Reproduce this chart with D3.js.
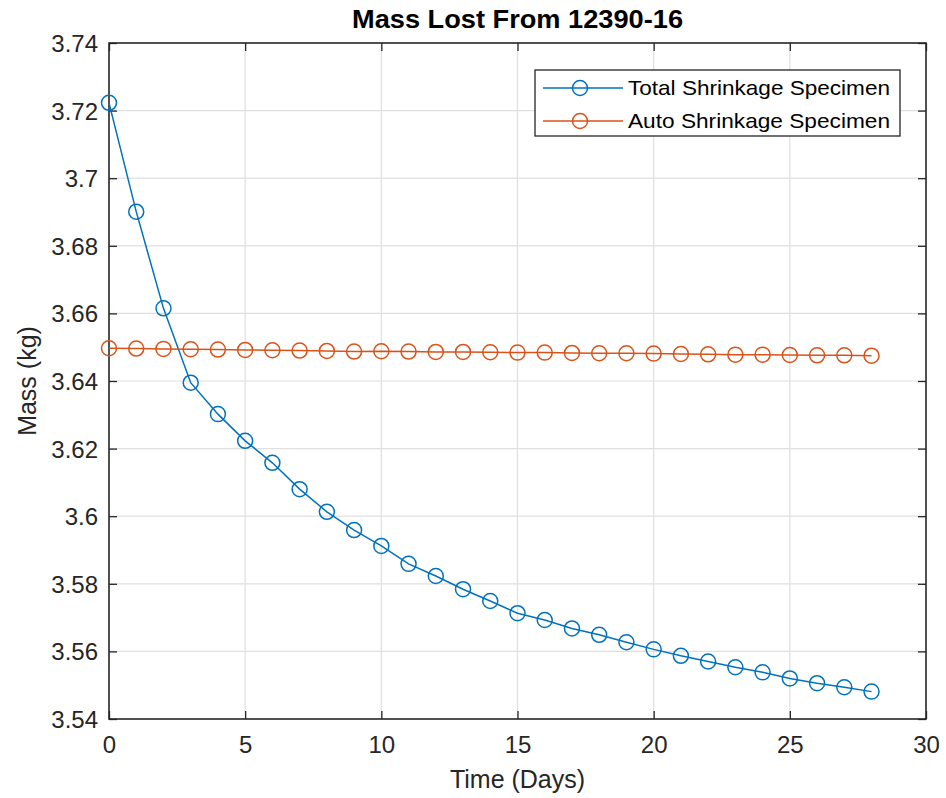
<!DOCTYPE html>
<html>
<head>
<meta charset="utf-8">
<script src="https://cdn.jsdelivr.net/npm/d3@7"></script>
<style>
  body { margin: 0; background: #fff; overflow: hidden; }
  svg { display: block; font-family: "Liberation Sans", Arial, sans-serif; }
  .tick text { fill: #262626; font-size: 24px; }
  .axis-label { fill: #262626; font-size: 25px; }
  .title { fill: #000; font-size: 25px; font-weight: bold; }
</style>
</head>
<body>
<svg width="946" height="798"></svg>
<script>
const days = d3.range(0, 29);

const totalShrinkage = [
  3.7223, 3.6901, 3.6615, 3.6395, 3.6302, 3.6223, 3.6158, 3.6080, 3.6013, 3.5959,
  3.5912, 3.5859, 3.5823, 3.5784, 3.5749, 3.5713, 3.5693, 3.5668, 3.5649, 3.5627,
  3.5606, 3.5587, 3.5570, 3.5553, 3.5538, 3.5520, 3.5506, 3.5494, 3.5481
];

const autoShrinkage = [
  3.6497, 3.6496, 3.6495, 3.6494, 3.6493, 3.6492, 3.6491, 3.6490, 3.6489, 3.6487,
  3.6488, 3.6487, 3.6486, 3.6486, 3.6485, 3.6484, 3.6484, 3.6483, 3.6482, 3.6482,
  3.6481, 3.6480, 3.6479, 3.6478, 3.6478, 3.6477, 3.6476, 3.6476, 3.6475
];

const seriesNames = ['Total Shrinkage Specimen', 'Auto Shrinkage Specimen'];
const seriesColors = ['#0072BD', '#D95319'];

const xTicks = [0, 5, 10, 15, 20, 25, 30];
const yTicks = [3.54, 3.56, 3.58, 3.6, 3.62, 3.64, 3.66, 3.68, 3.7, 3.72, 3.74];

const title = 'Mass Lost From 12390-16';
const xAxisLabel = 'Time (Days)';
const yAxisLabel = 'Mass (kg)';

const svg = d3.select('svg');
const width = +svg.attr('width');
const height = +svg.attr('height');

const margin = {top: 43, right: 20, bottom: 79, left: 109};
const innerWidth = width - margin.left - margin.right;
const innerHeight = height - margin.top - margin.bottom;

const xScale = d3.scaleLinear().domain([0, 30]).range([0, innerWidth]);
const yScale = d3.scaleLinear().domain([3.54, 3.74]).range([innerHeight, 0]);

const g = svg.append('g')
  .attr('transform', `translate(${margin.left}, ${margin.top})`);

// grid
g.append('g').selectAll('line').data(xTicks.slice(1, -1)).join('line')
  .attr('x1', d => xScale(d)).attr('x2', d => xScale(d))
  .attr('y1', 0).attr('y2', innerHeight)
  .attr('stroke', '#dfdfdf').attr('stroke-width', 1.2);
g.append('g').selectAll('line').data(yTicks.slice(1, -1)).join('line')
  .attr('y1', d => yScale(d)).attr('y2', d => yScale(d))
  .attr('x1', 0).attr('x2', innerWidth)
  .attr('stroke', '#dfdfdf').attr('stroke-width', 1.2);

// axes
const fmt = d => String(+d.toFixed(2));
const tickLen = 8;

const xAxisG = g.append('g')
  .attr('transform', `translate(0, ${innerHeight})`)
  .call(d3.axisBottom(xScale).tickValues(xTicks).tickFormat(fmt).tickSize(-tickLen).tickPadding(17));
const xTopG = g.append('g')
  .call(d3.axisTop(xScale).tickValues(xTicks).tickSize(-tickLen));
const yAxisG = g.append('g')
  .call(d3.axisLeft(yScale).tickValues(yTicks).tickFormat(fmt).tickSize(-tickLen).tickPadding(11));
const yRightG = g.append('g')
  .attr('transform', `translate(${innerWidth}, 0)`)
  .call(d3.axisRight(yScale).tickValues(yTicks).tickSize(-tickLen));

xTopG.selectAll('.tick text').remove();
yRightG.selectAll('.tick text').remove();

[xAxisG, xTopG, yAxisG, yRightG].forEach(a => {
  a.selectAll('.domain').remove();
  a.selectAll('.tick line').attr('stroke', '#262626').attr('stroke-width', 1.3);
  a.selectAll('.tick text').attr('font-size', null);
});
yAxisG.selectAll('.tick text').attr('dy', '0.35em');

g.append('rect')
  .attr('width', innerWidth).attr('height', innerHeight)
  .attr('fill', 'none').attr('stroke', '#262626').attr('stroke-width', 1.6);

// series
const series = [totalShrinkage, autoShrinkage];
const line = d3.line().x((d, i) => xScale(days[i])).y(d => yScale(d));

series.forEach((vals, s) => {
  const sg = g.append('g');
  sg.append('path')
    .attr('d', line(vals))
    .attr('fill', 'none')
    .attr('stroke', seriesColors[s])
    .attr('stroke-width', 1.5);
  sg.selectAll('circle').data(vals).join('circle')
    .attr('cx', (d, i) => xScale(days[i]))
    .attr('cy', d => yScale(d))
    .attr('r', 7.5)
    .attr('fill', 'none')
    .attr('stroke', seriesColors[s])
    .attr('stroke-width', 1.5);
});

// legend
const legend = g.append('g').attr('transform', `translate(${535 - margin.left}, ${70 - margin.top})`);
legend.append('rect')
  .attr('width', 365).attr('height', 66)
  .attr('fill', '#fff').attr('stroke', '#262626').attr('stroke-width', 1.3);
seriesNames.forEach((name, s) => {
  const row = legend.append('g').attr('transform', `translate(0, ${18 + s * 33})`);
  row.append('line')
    .attr('x1', 8).attr('x2', 88)
    .attr('stroke', seriesColors[s]).attr('stroke-width', 1.5);
  row.append('circle')
    .attr('cx', 45).attr('r', 7.5)
    .attr('fill', 'none').attr('stroke', seriesColors[s]).attr('stroke-width', 1.5);
  row.append('text')
    .attr('x', 93).attr('dy', '0.35em')
    .attr('font-size', 21).attr('fill', '#000')
    .attr('textLength', 262).attr('lengthAdjust', 'spacingAndGlyphs')
    .text(name);
});

// labels
g.append('text')
  .attr('class', 'axis-label')
  .attr('x', innerWidth / 2).attr('y', innerHeight + 69)
  .attr('text-anchor', 'middle')
  .text(xAxisLabel);

g.append('text')
  .attr('class', 'axis-label')
  .attr('transform', 'rotate(-90)')
  .attr('x', -innerHeight / 2).attr('y', -109 + 36)
  .attr('text-anchor', 'middle')
  .text(yAxisLabel);

g.append('text')
  .attr('class', 'title')
  .attr('x', innerWidth / 2).attr('y', -15)
  .attr('text-anchor', 'middle')
  .attr('textLength', 331).attr('lengthAdjust', 'spacingAndGlyphs')
  .text(title);
</script>
</body>
</html>
